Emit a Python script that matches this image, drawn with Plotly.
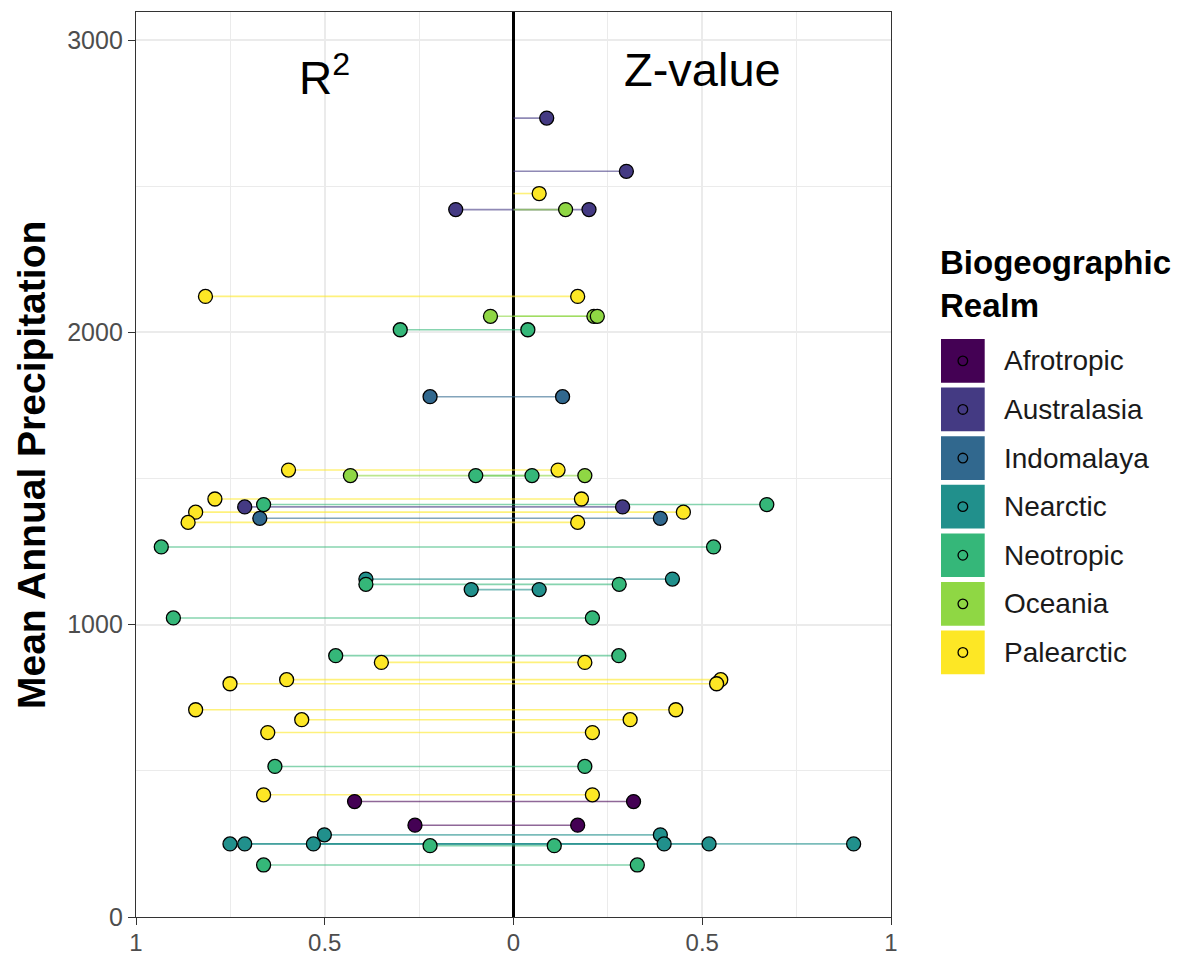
import plotly.graph_objects as go

# ---------------- data ----------------
realms = ["Afrotropic", "Australasia", "Indomalaya", "Nearctic",
          "Neotropic", "Oceania", "Palearctic"]
realm_colors = ["#440154", "#443A83", "#31688E", "#21908C",
                "#35B779", "#8FD744", "#FDE725"]

row_realm = [
    "Australasia", "Australasia", "Palearctic", "Australasia", "Oceania",
    "Palearctic", "Oceania", "Oceania", "Neotropic", "Indomalaya",
    "Palearctic", "Oceania", "Neotropic", "Palearctic", "Neotropic",
    "Australasia", "Palearctic", "Indomalaya", "Palearctic", "Neotropic",
    "Nearctic", "Neotropic", "Nearctic", "Neotropic", "Neotropic",
    "Palearctic", "Palearctic", "Palearctic", "Palearctic", "Palearctic",
    "Palearctic", "Neotropic", "Palearctic", "Afrotropic", "Afrotropic",
    "Nearctic", "Nearctic", "Nearctic", "Nearctic", "Neotropic", "Neotropic",
]
precip = [
    2733, 2551, 2475, 2420, 2420,
    2123, 2055, 2055, 2009, 1780,
    1529, 1510, 1510, 1430, 1411,
    1403, 1385, 1364, 1350, 1266,
    1156, 1138, 1120, 1023, 894,
    871, 812, 798, 709, 675,
    631, 515, 418, 395, 314,
    281, 250, 250, 250, 244, 178,
]
r_squared = [
    None, None, None, 0.153, None,
    0.816, 0.061, None, 0.300, 0.221,
    0.596, 0.432, 0.100, 0.791, 0.662,
    0.712, 0.842, 0.672, 0.862, 0.933,
    0.391, 0.391, 0.112, 0.901, 0.471,
    0.350, 0.601, 0.751, 0.842, 0.561,
    0.651, 0.632, 0.662, 0.421, 0.261,
    0.501, 0.751, 0.712, 0.530, 0.221, 0.662,
]
z_value = [
    0.088, 0.299, 0.068, 0.200, 0.138,
    0.170, 0.213, 0.222, 0.038, 0.130,
    0.118, 0.189, 0.049, 0.180, 0.671,
    0.289, 0.450, 0.389, 0.170, 0.530,
    0.421, 0.280, 0.068, 0.209, 0.279,
    0.189, 0.549, 0.538, 0.430, 0.309,
    0.209, 0.189, 0.209, 0.318, 0.170,
    0.389, 0.399, 0.901, 0.518, 0.108, 0.328,
]

x_tickvals = [-1, -0.5, 0, 0.5, 1]
x_ticktext = ["1", "0.5", "0", "0.5", "1"]
y_tickvals = [0, 1000, 2000, 3000]
y_ticktext = ["0", "1000", "2000", "3000"]

FONT = "Liberation Sans, Arial, sans-serif"


def rgba(hex_color, a):
    h = hex_color.lstrip("#")
    return "rgba(%d,%d,%d,%s)" % (int(h[0:2], 16), int(h[2:4], 16), int(h[4:6], 16), a)


fig = go.Figure()

# segments (drawn first, under the points)
for realm, col in zip(realms, realm_colors):
    xs, ys = [], []
    for rr, p, r2, z in zip(row_realm, precip, r_squared, z_value):
        if rr != realm:
            continue
        left = -r2 if r2 is not None else 0
        xs += [left, z, None]
        ys += [p, p, None]
    fig.add_trace(go.Scatter(x=xs, y=ys, mode="lines",
                             line=dict(color=rgba(col, 0.6), width=1.6),
                             showlegend=False, hoverinfo="skip"))

# points
for realm, col in zip(realms, realm_colors):
    xs, ys = [], []
    for rr, p, r2, z in zip(row_realm, precip, r_squared, z_value):
        if rr != realm:
            continue
        if r2 is not None:
            xs.append(-r2)
            ys.append(p)
        xs.append(z)
        ys.append(p)
    fig.add_trace(go.Scatter(x=xs, y=ys, mode="markers", name=realm,
                             marker=dict(size=14, color=col,
                                         line=dict(color="black", width=1.3)),
                             showlegend=False))

# ---------------- layout ----------------
# the page body has an 8px default margin, so the figure is offset by 8px
OFF = 8
W, H = 1184 - OFF, 956 - OFF
PL, PR, PT, PB = 136, 891, 12, 917          # target panel edges in page pixels
L, T = PL - OFF, PT - OFF
pw, ph = PR - PL, PB - PT
R, B = W - L - pw, H - T - ph


def px_x(px):
    return (px - PL) / pw


def px_y(py):
    return (PB - py) / ph


grid = "#EBEBEB"
fig.update_layout(
    width=W, height=H,
    margin=dict(l=L, r=R, t=T, b=B, autoexpand=False),
    plot_bgcolor="white", paper_bgcolor="white",
    font=dict(family=FONT),
    showlegend=False,
    xaxis=dict(range=[-1, 1], tickvals=x_tickvals, ticktext=x_ticktext,
               automargin=False,
               showgrid=True, gridcolor=grid, gridwidth=1.6,
               minor=dict(tickvals=[-0.75, -0.25, 0.25, 0.75], showgrid=True,
                          gridcolor=grid, gridwidth=1.2, ticks=""),
               zeroline=True, zerolinecolor="black", zerolinewidth=2.6,
               showline=True, linecolor="#333333", linewidth=1.3, mirror=True,
               ticks="outside", ticklen=7, tickwidth=1.3, tickcolor="#333333",
               ticklabelstandoff=-3,
               tickfont=dict(size=24, color="#4D4D4D", family=FONT)),
    yaxis=dict(range=[0, 3096], tickvals=y_tickvals, ticktext=y_ticktext,
               automargin=False,
               showgrid=True, gridcolor=grid, gridwidth=1.6,
               minor=dict(tickvals=[500, 1500, 2500], showgrid=True,
                          gridcolor=grid, gridwidth=1.2, ticks=""),
               zeroline=False,
               showline=True, linecolor="#333333", linewidth=1.3, mirror=True,
               ticks="outside", ticklen=7, tickwidth=1.3, tickcolor="#333333",
               tickfont=dict(size=25, color="#4D4D4D", family=FONT)),
)

annotations = [
    dict(x=-0.5, y=2880, xref="x", yref="y", text="R<sup>2</sup>", showarrow=False,
         font=dict(size=46, color="black", family=FONT), xanchor="center", yanchor="middle"),
    dict(x=0.5, y=2900, xref="x", yref="y", text="Z-value", showarrow=False,
         font=dict(size=47, color="black", family=FONT), xanchor="center", yanchor="middle"),
    dict(x=px_x(31), y=px_y(465), xref="paper", yref="paper",
         text="<b>Mean Annual Precipitation</b>", textangle=-90, showarrow=False,
         font=dict(size=39, color="black", family=FONT), xanchor="center", yanchor="middle"),
    dict(x=px_x(938), y=px_y(284), xref="paper", yref="paper",
         text="<b>Biogeographic</b><br><b>Realm</b>", showarrow=False, align="left",
         font=dict(size=33, color="black", family=FONT), xanchor="left", yanchor="middle"),
]

shapes = []
key_top0, key_pitch, key_size = 339, 48.6, 43.7
for i, (realm, col) in enumerate(zip(realms, realm_colors)):
    top = key_top0 + i * key_pitch
    cy = top + key_size / 2
    shapes.append(dict(type="rect", xref="paper", yref="paper",
                       x0=px_x(941), x1=px_x(941 + key_size),
                       y0=px_y(top + key_size), y1=px_y(top),
                       fillcolor=col, line=dict(width=0)))
    cx = 941 + key_size / 2
    shapes.append(dict(type="circle", xref="paper", yref="paper",
                       x0=px_x(cx - 4.8), x1=px_x(cx + 4.8),
                       y0=px_y(cy + 4.8), y1=px_y(cy - 4.8),
                       fillcolor=col, line=dict(color="black", width=1.3)))
    annotations.append(dict(x=px_x(1002), y=px_y(cy), xref="paper", yref="paper",
                            text=realm, showarrow=False,
                            font=dict(size=28, color="#1A1A1A", family=FONT),
                            xanchor="left", yanchor="middle"))

fig.update_layout(annotations=annotations, shapes=shapes)

fig.write_html("out.html")
